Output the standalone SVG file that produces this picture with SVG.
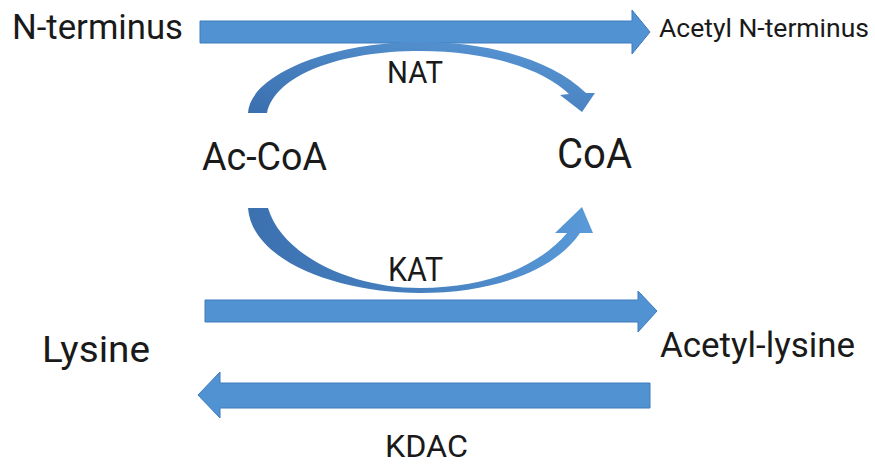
<svg xmlns="http://www.w3.org/2000/svg" width="875" height="466" viewBox="0 0 875 466">
<defs>
<style>
.lbl{font-family:Roboto,"Liberation Sans",sans-serif;fill:#1a1a1a}
.arr{fill:#5192d3;stroke:#3f7cbd;stroke-width:1}
</style>
<linearGradient id="gN" x1="0" y1="1" x2="1" y2="0">
<stop offset="0" stop-color="#3a6fae"/><stop offset="0.5" stop-color="#4a83c2"/><stop offset="1" stop-color="#5b9ad8"/>
</linearGradient>
<linearGradient id="gK" x1="0" y1="0" x2="1" y2="0">
<stop offset="0" stop-color="#3c71b0"/><stop offset="0.5" stop-color="#4680c0"/><stop offset="1" stop-color="#5a9ad8"/>
</linearGradient>
</defs>
<rect width="875" height="466" fill="#ffffff"/>
<g id="connectors">
<path id="arrow-nterm" class="arr" d="M200,21 L632,21 L632,10 L650,32 L632,54 L632,43 L200,43 Z"/>
<path id="arrow-nat" fill="url(#gN)" d="M248,113 C250,75 330,42 420,42 C490,42 552,60 586,93 L595,93 L582,112 L560,95 L569,94 C545,70 490,51 420,51 C340,51 275,75 267,113 Z"/>
<path id="arrow-kat" fill="url(#gK)" d="M248,208 C252,262 340,293 420,293 C495,293 555,270 580,233 L593,233 L582,207 L555,233 L567,233 C540,265 490,288 420,288 C350,288 282,255 268,208 Z"/>
<path id="arrow-kat-lys" class="arr" d="M205,300 L638,300 L638,291 L657,311 L638,332 L638,322 L205,322 Z"/>
<path id="arrow-kdac" class="arr" d="M650,383 L220,383 L220,372 L198,395 L220,418 L220,408 L650,408 Z"/>
</g>
<g id="n-terminus"><text class="lbl" x="12" y="39" font-size="35" textLength="171" lengthAdjust="spacingAndGlyphs">N-terminus</text></g>
<g id="acetyl-n-terminus"><text class="lbl" x="659" y="37" font-size="26.5">Acetyl N-terminus</text></g>
<g id="nat"><text class="lbl" x="387" y="83" font-size="31" textLength="56" lengthAdjust="spacingAndGlyphs">NAT</text></g>
<g id="ac-coa"><text class="lbl" x="202" y="170" font-size="38" textLength="125" lengthAdjust="spacingAndGlyphs">Ac-CoA</text></g>
<g id="coa"><text class="lbl" x="557" y="168" font-size="42" textLength="75" lengthAdjust="spacingAndGlyphs">CoA</text></g>
<g id="kat"><text class="lbl" x="388" y="281" font-size="34" textLength="55" lengthAdjust="spacingAndGlyphs">KAT</text></g>
<g id="lysine"><text class="lbl" x="42" y="362" font-size="37" textLength="108" lengthAdjust="spacingAndGlyphs">Lysine</text></g>
<g id="acetyl-lysine"><text class="lbl" x="660" y="357" font-size="35" textLength="195" lengthAdjust="spacingAndGlyphs">Acetyl-lysine</text></g>
<g id="kdac"><text class="lbl" x="385" y="457" font-size="32" textLength="83" lengthAdjust="spacingAndGlyphs">KDAC</text></g>
</svg>
